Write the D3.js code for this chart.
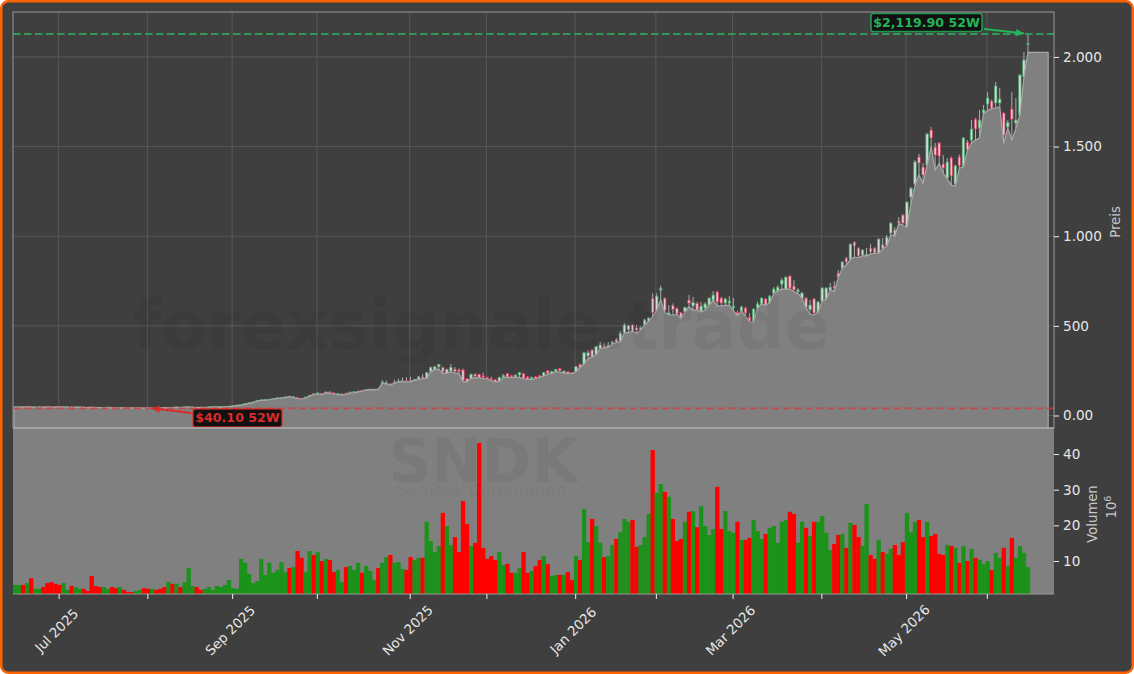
<!DOCTYPE html>
<html lang="de">
<head>
  <meta charset="UTF-8">
  <title>SNDK</title>
  <style>
    html, body { margin: 0; padding: 0; background: #fff; overflow: hidden; }
    svg { display: block; }
    text { font-family: "DejaVu Sans", sans-serif; }
  </style>
</head>
<body>
  <script src="https://d3js.org/d3.v7.min.js"></script>
  <script>
    // daily candles, Jun 2025 - Jun 2026
    let opens = [
      47,48,50,49,51,47,47,49,50,50, 49,50,48,47,49,46,47,48,47,48,
      47,46,44,45,46,45,44,45,44,44, 42,43,44,44,41,43,45,46,44,46,
      46,47,47,48,46,47,47,45,47,48, 49,48,49,50,52.5,55.5,58,62,68,72,
      80,84,87,88,92,96,97,100,108,101, 101,96,98,108,122,120,124,127,131,127,
      117,115,124,125,127,130,142,142,144,143, 151,181,177,178,180,188,190,195,198,196,
      202,216,207,244,257,272,269,235,248,259, 254,254,205,207,230,230,220,214,208,200,
      190,215,235,224,215,226,235,216,203,216, 224,220,250,235,245,261,236,245,240,244,
      285,287,332,365,338,375,387,380,400,425, 412,462,480,505,490,480,505,525,653,588,
      700,653,561,613,598,574,579,644,611,626, 583,600,616,644,689,655,627,627,600,575,
      583,600,549,521,599,622,650,627,683,694, 733,705,778,722,690,655,655,590,650,577,
      638,650,700,722,794,822,878,873,967,934, 895,890,934,934,906,955,950,1018,1035,1085,
      1118,1050,1218,1291,1442,1386,1397,1592,1497,1520, 1403,1325,1436,1291,1442,1386,1525,1536,1653,1603,
      1687,1737,1754,1743,1743,1687,1610,1709,1631,1676,1889,2070
    ];
    let closes = [
      49,50,48,51,48,48,49,48,49,48, 48,48,50,49,47,48,49,46,45,46,
      45,45,46,47,44,43,46,43,42,43, 44,45,42,43,43,42,44,45,46,45,
      48,45,49,50,48,45,46,47,49,50, 50,50,51,52,54,58,62,67,71,76,
      84,87,89,91,95,98,100,104,106,105, 95,93,103,113,119,126,118,131,126,121,
      122,120,119,130,133,136,137,145,147,147, 147,186,183,172,186,192,195,190,190,202,
      216,207,240,269,272,285,244,257,269,244, 244,194,190,230,217,213,212,208,200,190,
      213,224,214,215,226,240,207,203,213,206, 214,240,235,245,257,250,248,236,234,272,
      270,350,350,326,384,393,377,392,410,406, 458,505,500,471,475,490,533,544,573,666,
      710,585,574,592,570,542,603,626,631,589, 610,622,655,672,633,627,650,638,610,562,
      605,571,527,594,622,655,618,666,705,716, 755,772,711,700,700,683,602,616,571,633,
      711,711,716,711,772,856,856,956,945,890, 923,900,912,906,984,930,995,1073,1003,1075,
      1073,1190,1268,1414,1408,1341,1570,1548,1453,1447, 1380,1414,1336,1392,1392,1548,1481,1598,1598,1648,
      1704,1771,1715,1838,1765,1564,1635,1653,1648,1899,1983,2074
    ];
    let highs = [
      51,52,51,53,52,50,51,50,52,51, 50,51,52,50,50,50,50,49,48,49,
      48,47,48,48,47,46,47,46,45,45, 46,46,45,45,45,44,46,47,48,47,
      49,48,50,52,49,48,48,49,50,51, 52,52,52,53,56,60,64,69,73,78,
      86,90,91,93,97,100,103,106,110,107, 103,98,105,115,124,128,126,134,137,129,
      125,123,128,134,135,138,143,147,149,150, 153,198,195,180,200,205,211,213,216,204,
      218,231,243,272,276,288,272,262,287,270, 262,262,208,233,236,233,239,216,216,203,
      216,232,238,227,228,243,238,218,216,219, 226,243,252,250,260,265,250,248,243,275,
      290,352,362,370,388,410,402,410,417,432, 470,514,505,508,505,498,540,546,681,681,
      724,660,616,625,602,578,608,672,661,634, 633,633,657,694,695,662,657,666,655,584,
      612,606,571,596,635,657,655,672,716,727, 766,774,780,755,711,690,660,644,655,640,
      715,714,739,750,811,860,885,958,972,938, 928,934,956,938,988,990,1007,1078,1051,1107,
      1125,1195,1275,1425,1460,1408,1575,1609,1520,1525, 1453,1436,1445,1400,1455,1552,1536,1648,1660,1704,
      1732,1804,1762,1860,1826,1690,1648,1804,1771,1905,2027,2125
    ];
    let lows = [
      46,47,47,48,47,46,46,47,48,47, 47,48,47,46,46,45,46,45,44,45,
      44,44,43,44,43,42,43,42,41,42, 41,42,41,42,40.1,41,43,44,43,44,
      45,44,46,47,45,44,45,44,46,47, 48,47,48,49,52,55,58,62,68,72,
      80,84,86,88,92,96,97,100,105,100, 94,92,98,108,118,120,116,127,125,120,
      116,114,118,125,127,130,136,142,144,143, 146,181,176,170,180,188,188,188,188,196,
      202,205,207,244,257,258,235,235,244,236, 235,188,188,207,210,212,205,205,195,188,
      190,213,213,212,213,213,205,202,202,205, 213,220,230,235,244,242,236,235,233,244,
      268,287,319,325,338,375,376,380,399,405, 412,462,462,470,458,475,505,525,551,588,
      644,575,561,560,566,540,577,607,588,588, 577,590,616,644,610,612,614,616,585,556,
      583,555,523,521,599,622,616,627,680,694, 705,705,705,690,680,655,600,565,560,577,
      638,650,700,692,770,822,839,870,884,880, 890,890,901,905,906,928,945,1007,1001,1072,
      1060,1050,1180,1285,1341,1295,1397,1499,1369,1406, 1351,1320,1285,1280,1379,1386,1480,1520,1536,1548,
      1685,1700,1713,1715,1722,1518,1603,1536,1600,1676,1889,2025
    ];
    // volume in millions
    let volumes = [
      3.3,3.3,3.3,3.8,5.2,2.2,2.2,2.7,3.8,4.1, 3.6,3.3,3.8,1.9,3.0,2.7,2.2,2.2,1.6,5.8,
      3.0,2.7,2.7,2.2,2.7,2.4,2.7,1.9,1.3,1.3, 1.6,1.9,2.4,2.2,2.2,1.9,2.2,2.7,4.1,3.6,
      3.6,2.7,4.1,8.0,3.0,2.7,1.9,2.2,2.7,1.9, 3.0,2.7,3.3,4.7,2.4,2.2,10.6,9.5,6.4,3.8,
      4.4,10.6,6.1,9.5,6.7,7.5,9.7,6.9,8.0,8.3, 12.8,10.9,6.9,12.8,11.7,12.5,10.0,10.6,10.3,6.9,
      7.5,4.1,8.3,8.6,7.5,9.5,6.7,8.6,7.2,4.7, 8.0,9.5,11.1,11.7,9.5,9.7,7.8,7.5,11.1,10.3,
      10.9,10.9,21,15.6,12.5,14.2,23.5,19.8,14.5,16.7, 12.5,26.8,20.4,14.2,15.1,43.1,13.7,10.6,11.4,10.3,
      12.5,8.9,9.2,6.7,6.7,8.0,12.5,6.7,7.2,8.6, 10.3,11.4,9.2,5.8,6.1,6.1,6.1,6.9,4.7,11.4,
      10.3,24.6,15.3,21.8,19.8,15.1,11.1,11.4,14.5,16.2, 18.1,21.8,21,21.5,14,14.5,16.7,23.2,41.1,29.1,
      31.6,29.4,28,21.8,15.6,16.2,21,23.8,24,19.5, 25.4,19.8,17.3,19,30.8,19,24,18.4,17.9,21,
      15.9,15.9,16.5,21.5,18.4,16.2,17.6,19.3,19.8,15.1, 21,21.5,23.8,23.2,15.1,21,19.3,17,21,21,
      22.6,17.9,13.1,14.8,17.3,17.6,13.7,20.7,20.1,16.7, 14.2,26,11.7,10.6,15.9,12.5,12,13.4,14.5,11.7,
      15.3,23.5,18.1,21,21.5,16.7,21,17,17.6,12, 11.7,14.5,14.2,13.7,9.5,14.2,10,13.4,10.9,10.3,
      9.2,10,7.5,12.3,10.9,13.7,8.6,16.5,10.9,14.2,12.3,8.3
    ];

    // first trading day of each month, as a bar index
    let monthTicks = [11,33,54,75,98,117,139,159,178,200,221,241];
    let monthLabels = ["Jul 2025","","Sep 2025","","Nov 2025","","Jan 2026","","Mar 2026","","May 2026",""];
    let priceTicks = [0,500,1000,1500,2000];
    let volumeTicks = [10,20,30,40];
    // the green line sits a little above the value on its label in the picture
    let high52Line = 2128;
    let low52Line = 40.10;
    let high52Bar = 251;
    let low52Bar = 34;

    let width = 1134, height = 674;
    let left = 13, right = 1054;
    let priceTop = 12, priceBottom = 428, volumeBottom = 594;
    let figColor = "#3f3f3f", panelColor = "#808080", spineColor = "#9a9a9a";
    let textColor = "#e6e6e6", upColor = "#45b56c", downColor = "#e8315f";

    let x = d3.scaleLinear().domain([-0.5, 251.5]).range([left, 1030]);
    let yPrice = d3.scaleLinear().domain([-69.7, 2250.6]).range([priceBottom, priceTop]);
    let yVolume = d3.scaleLinear().domain([0.75, 47.3]).range([volumeBottom, priceBottom]);

    let svg = d3.select("body").append("svg")
      .attr("width", width)
      .attr("height", height);

    // figure frame
    svg.append("rect")
      .attr("x", 1.25).attr("y", 1.25)
      .attr("width", width - 2.5).attr("height", height - 2.5)
      .attr("rx", 7)
      .attr("fill", figColor)
      .attr("stroke", "#ff6200")
      .attr("stroke-width", 2.5);

    // panels
    svg.append("rect")
      .attr("x", left).attr("y", priceBottom)
      .attr("width", right - left).attr("height", volumeBottom - priceBottom)
      .attr("fill", panelColor);

    // grid of the price panel
    let grid = svg.append("g").attr("stroke", "#5e5e5e").attr("stroke-width", 0.8);
    grid.selectAll(".v").data(monthTicks).join("line")
      .attr("x1", d => x(d - 0.2)).attr("x2", d => x(d - 0.2))
      .attr("y1", priceTop).attr("y2", priceBottom);
    grid.selectAll(".h").data(priceTicks).join("line")
      .attr("x1", left).attr("x2", right)
      .attr("y1", d => yPrice(d)).attr("y2", d => yPrice(d));

    // candles
    let candleWidth = 2.5;
    let candles = svg.append("g").attr("opacity", 0.85)
      .selectAll("g").data(d3.range(opens.length)).join("g");
    candles.append("line")
      .attr("x1", i => x(i)).attr("x2", i => x(i))
      .attr("y1", i => yPrice(highs[i])).attr("y2", i => yPrice(lows[i]))
      .attr("stroke", "#d0d0d0")
      .attr("stroke-width", 0.9);
    candles.append("rect")
      .attr("x", i => x(i) - candleWidth / 2)
      .attr("width", candleWidth)
      .attr("y", i => yPrice(Math.max(opens[i], closes[i])))
      .attr("height", i => Math.abs(yPrice(opens[i]) - yPrice(closes[i])))
      .attr("fill", i => closes[i] >= opens[i] ? "#eef5f0" : "#fbe3e8")
      .attr("stroke", i => closes[i] >= opens[i] ? upColor : downColor)
      .attr("stroke-width", 0.75);

    // area under the lows, runs on flat a few bars past the last one
    let areaBars = d3.range(lows.length).concat([256]);
    let areaValue = i => i < lows.length ? lows[i] : lows[lows.length - 1];
    let area = d3.area()
      .x(i => i == 0 ? left + 1 : x(i))
      .y0(priceBottom)
      .y1(i => yPrice(areaValue(i)));
    svg.append("path")
      .attr("d", area(areaBars) + "Z")
      .attr("fill", panelColor)
      .attr("stroke", "#a8a8a8")
      .attr("stroke-width", 1.2);

    // volume bars
    svg.append("g").selectAll("rect").data(volumes).join("rect")
      .attr("x", (d, i) => x(i) - 2.1)
      .attr("width", 4.3)
      .attr("y", d => yVolume(d))
      .attr("height", d => volumeBottom - yVolume(d))
      .attr("fill", (d, i) => closes[i] >= opens[i] ? "#1b931a" : "#ff0000");

    // watermarks
    let marks = svg.append("g").attr("text-anchor", "middle").attr("fill", "#000").attr("fill-opacity", 0.05);
    marks.append("text").attr("x", 481).attr("y", 349)
      .attr("font-size", 67).attr("font-weight", "bold").text("forexsignale.trade");
    marks.append("text").attr("x", 483).attr("y", 482)
      .attr("font-size", 60).attr("font-weight", "bold").text("SNDK");
    marks.append("text").attr("x", 482).attr("y", 496)
      .attr("font-size", 16.5).text("SanDisk Corporation");

    // 52 week lines
    svg.append("line")
      .attr("x1", left).attr("x2", right)
      .attr("y1", yPrice(high52Line)).attr("y2", yPrice(high52Line))
      .attr("stroke", "#2fa85a").attr("stroke-opacity", 0.85)
      .attr("stroke-width", 1.8).attr("stroke-dasharray", "7.5,3.5");
    svg.append("line")
      .attr("x1", left).attr("x2", right)
      .attr("y1", yPrice(low52Line)).attr("y2", yPrice(low52Line))
      .attr("stroke", "#d23c3c").attr("stroke-opacity", 0.8)
      .attr("stroke-width", 1.8).attr("stroke-dasharray", "7.5,3.5");

    function annotate(label, color, boxX, boxY, boxW, tailX, tailY, tipX, tipY) {
      let g = svg.append("g");
      g.append("line")
        .attr("x1", tailX).attr("y1", tailY)
        .attr("x2", tipX).attr("y2", tipY)
        .attr("stroke", color).attr("stroke-width", 2);
      let angle = Math.atan2(tipY - tailY, tipX - tailX) * 180 / Math.PI;
      g.append("path")
        .attr("d", "M0,0L-8,-3.6L-8,3.6Z")
        .attr("transform", "translate(" + tipX + "," + tipY + ") rotate(" + angle + ")")
        .attr("fill", color);
      g.append("rect")
        .attr("x", boxX).attr("y", boxY)
        .attr("width", boxW).attr("height", 18)
        .attr("rx", 2.5)
        .attr("fill", "#111")
        .attr("stroke", color).attr("stroke-opacity", 0.8)
        .attr("stroke-width", 1.6);
      g.append("text")
        .attr("x", boxX + boxW / 2).attr("y", boxY + 13)
        .attr("text-anchor", "middle")
        .attr("font-size", 12.6)
        .attr("font-weight", "bold")
        .attr("fill", color)
        .text(label);
    }
    annotate("$2,119.90 52W", "#22b559", 871, 13.5, 111, 984, 29, x(high52Bar) - 4, yPrice(high52Line) - 0.5);
    annotate("$40.10 52W", "#d92b2b", 193, 409, 89, 191, 413, x(low52Bar) - 0.5, yPrice(low52Line));

    // spines on top of everything
    svg.append("rect")
      .attr("x", left).attr("y", priceTop)
      .attr("width", right - left).attr("height", priceBottom - priceTop)
      .attr("fill", "none").attr("stroke", spineColor).attr("stroke-width", 1);
    svg.append("line")
      .attr("x1", left).attr("x2", right)
      .attr("y1", priceBottom).attr("y2", priceBottom)
      .attr("stroke", "#a6a6a6").attr("stroke-width", 1.5);
    svg.append("line")
      .attr("x1", left).attr("x2", right)
      .attr("y1", volumeBottom).attr("y2", volumeBottom)
      .attr("stroke", spineColor).attr("stroke-width", 1);

    // axes
    let germanNumber = d3.formatLocale({ decimal: ",", thousands: ".", grouping: [3], currency: ["", ""] }).format(",d");
    let priceAxis = d3.axisRight(yPrice)
      .tickValues(priceTicks)
      .tickSize(5).tickPadding(4)
      .tickFormat(d => d == 0 ? "0.00" : germanNumber(d));
    let volumeAxis = d3.axisRight(yVolume)
      .tickValues(volumeTicks)
      .tickSize(5).tickPadding(4);
    let timeAxis = d3.axisBottom(x)
      .tickValues(monthTicks.map(d => d - 0.2))
      .tickSize(5)
      .tickFormat("");

    function styleAxis(g) {
      g.select(".domain").remove();
      g.selectAll("line").attr("stroke", "#f0f0f0");
      g.selectAll("text").attr("fill", textColor).attr("font-size", 13.6)
        .style("font-family", '"DejaVu Sans", sans-serif');
    }
    svg.append("g").attr("transform", "translate(" + right + ",0)").call(priceAxis).call(styleAxis);
    svg.append("g").attr("transform", "translate(" + right + ",0)").call(volumeAxis).call(styleAxis);
    svg.append("g").attr("transform", "translate(0," + volumeBottom + ")").call(timeAxis).call(styleAxis);

    svg.append("g").selectAll("text").data(monthTicks).join("text")
      .attr("transform", d => "translate(" + (x(d - 0.2) - 1.5) + ",631) rotate(-45)")
      .attr("text-anchor", "middle")
      .attr("dominant-baseline", "middle")
      .attr("font-size", 13.4)
      .attr("fill", textColor)
      .text((d, i) => monthLabels[i]);

    function sideLabel(px, py, label, size) {
      return svg.append("text")
        .attr("transform", "translate(" + px + "," + py + ") rotate(-90)")
        .attr("text-anchor", "middle")
        .attr("dominant-baseline", "middle")
        .attr("font-size", size)
        .attr("fill", "#c8c8c8")
        .text(label);
    }
    sideLabel(1116, 222, "Preis", 13.2);
    sideLabel(1093, 514, "Volumen", 13.2);
    let exponent = sideLabel(1112, 507, "10", 13.2);
    exponent.append("tspan").attr("dy", -4).attr("font-size", 9.5).text("6");
  </script>
</body>
</html>
